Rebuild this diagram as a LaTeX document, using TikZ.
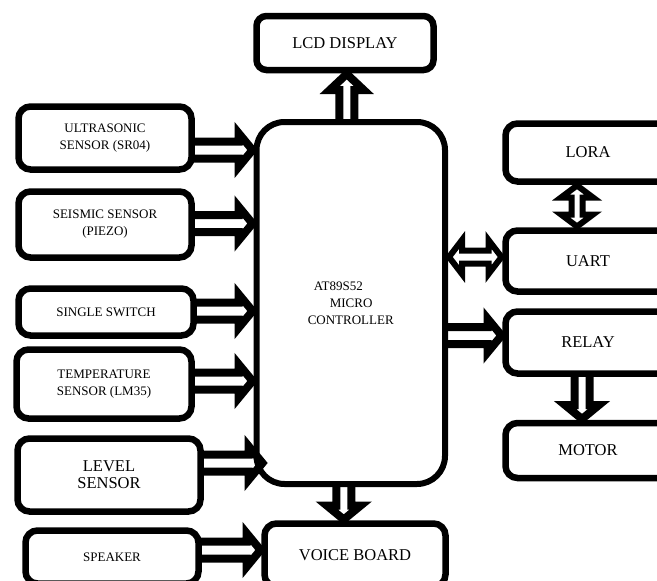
\documentclass[tikz,border=0pt]{standalone}
\usepackage{fontspec}
\setmainfont{Liberation Serif}
\usetikzlibrary{calc}
\pgfdeclarelayer{arrlayer}
\pgfsetlayers{arrlayer,main}
\newcommand\lgtxt{\fontsize{16.5}{17}\selectfont}
\tikzset{
  box/.style={draw, line width=6.5pt, rounded corners=12pt, align=center,
    inner sep=0pt, outer sep=0pt, font=\fontsize{13}{17}\selectfont},
  barr/.style={draw, fill=white, line width=8pt, line join=miter, miter limit=10},
  darr/.style={draw, fill=white, line width=6pt, line join=miter, miter limit=10},
}
% single block arrow: #1 start, #2 tip, #3 shaft half width, #4 head half width, #5 head length
\newcommand\sarrow[5]{%
  \path (#1) coordinate (bS);
  \path (#2) coordinate (bT0);
  \path ($(bT0)!4pt!(bS)$) coordinate (bT);
  \path ($(bT)!#5!(bS)$) coordinate (bH);
  \begin{pgfonlayer}{arrlayer}
  \filldraw[barr] ($(bS)!#3!-90:(bT)$) -- ($(bH)!#3!-90:(bT)$) -- ($(bH)!#4!-90:(bT)$)
    -- (bT) -- ($(bH)!#4!90:(bT)$) -- ($(bH)!#3!90:(bT)$) -- ($(bS)!#3!90:(bT)$);
  \end{pgfonlayer}
}
% double block arrow
\newcommand\darrow[5]{%
  \path (#1) coordinate (bA0);
  \path (#2) coordinate (bB0);
  \path ($(bA0)!4pt!(bB0)$) coordinate (bA);
  \path ($(bB0)!4pt!(bA0)$) coordinate (bB);
  \path ($(bA)!#5!(bB)$) coordinate (bHA);
  \path ($(bB)!#5!(bA)$) coordinate (bHB);
  \begin{pgfonlayer}{arrlayer}
  \filldraw[darr] (bA) -- ($(bHA)!#4!90:(bB)$) -- ($(bHA)!#3!90:(bB)$) -- ($(bHB)!#3!90:(bB)$)
    -- ($(bHB)!#4!90:(bB)$) -- (bB) -- ($(bHB)!#4!-90:(bB)$) -- ($(bHB)!#3!-90:(bB)$)
    -- ($(bHA)!#3!-90:(bB)$) -- ($(bHA)!#4!-90:(bB)$) -- cycle;
  \end{pgfonlayer}
}
\begin{document}
\begin{tikzpicture}[x=1pt,y=-1pt]
\useasboundingbox (0,0) rectangle (657,581);
\begin{scope}
\clip (0,0) rectangle (657,581);
\node[box, minimum width=177pt, minimum height=54pt, rounded corners=10pt] (lcd) at (345,43) {\lgtxt LCD DISPLAY};
\node[box, line width=6pt, minimum width=188.5pt, minimum height=362pt, rounded corners=28pt, align=left] (mcu) at (350.75,303)
  {\fontsize{13}{15}\selectfont\hspace*{6pt}AT89S52\\\hspace*{22pt}MICRO\\CONTROLLER};
\node[box, minimum width=173pt, minimum height=63pt] (us) at (105,138) {ULTRASONIC\\SENSOR (SR04)};
\node[box, minimum width=173pt, minimum height=66pt] (se) at (105,224.5) {SEISMIC SENSOR\\(PIEZO)};
\node[box, minimum width=175pt, minimum height=47pt] (sw) at (106,312) {SINGLE SWITCH};
\node[box, minimum width=175pt, minimum height=69pt] (tp) at (104,384) {TEMPERATURE\\SENSOR (LM35)};
\node[box, minimum width=183pt, minimum height=73pt, font=\lgtxt] (lv) at (109,475) {LEVEL\\SENSOR};
\node[box, minimum width=173pt, minimum height=53pt] (sp) at (112,557) {SPEAKER};
\node[box, minimum width=181pt, minimum height=63pt] (vb) at (355,555) {\lgtxt VOICE BOARD};
\node[box, minimum width=165pt, minimum height=58pt] (lo) at (588,152.5) {\lgtxt LORA};
\node[box, minimum width=165pt, minimum height=61pt] (ua) at (588,261) {\lgtxt UART};
\node[box, minimum width=165pt, minimum height=62pt] (rl) at (588,342.5) {\lgtxt RELAY};
\node[box, minimum width=165pt, minimum height=55pt] (mo) at (588,450.5) {\lgtxt MOTOR};
\end{scope}
% input arrows
\sarrow{[yshift=-12pt]us.east}{mcu.west |- bS}{8.5pt}{17pt}{14pt}
\sarrow{[yshift=1pt]se.east}{mcu.west |- bS}{8.5pt}{17pt}{14pt}
\sarrow{[yshift=1pt]sw.east}{mcu.west |- bS}{8.5pt}{17pt}{14pt}
\sarrow{[yshift=3pt]tp.east}{mcu.west |- bS}{8.5pt}{17pt}{14pt}
\sarrow{[yshift=12pt]lv.east}{[xshift=10pt]mcu.west |- bS}{8.5pt}{17pt}{14pt}
\sarrow{[yshift=7pt]sp.east}{vb.west |- bS}{8.5pt}{17pt}{14pt}
% output arrows
\sarrow{[xshift=-4pt]mcu.north}{bS |- lcd.south}{7.5pt}{17pt}{16pt}
\sarrow{[xshift=-7pt]mcu.south}{bS |- vb.north}{7.5pt}{17pt}{14pt}
\sarrow{[yshift=7pt]mcu.east |- rl.west}{rl.west |- bS}{8.5pt}{17pt}{14pt}
\sarrow{[xshift=-6pt]rl.south}{bS |- mo.north}{7.5pt}{17pt}{14pt}
% bidirectional
\darrow{[xshift=-11pt]lo.south}{bA0 |- ua.north}{5.5pt}{16pt}{12pt}
\darrow{[yshift=4pt]ua.west}{mcu.east |- bA0}{6.5pt}{17pt}{13pt}
\end{tikzpicture}
\end{document}
